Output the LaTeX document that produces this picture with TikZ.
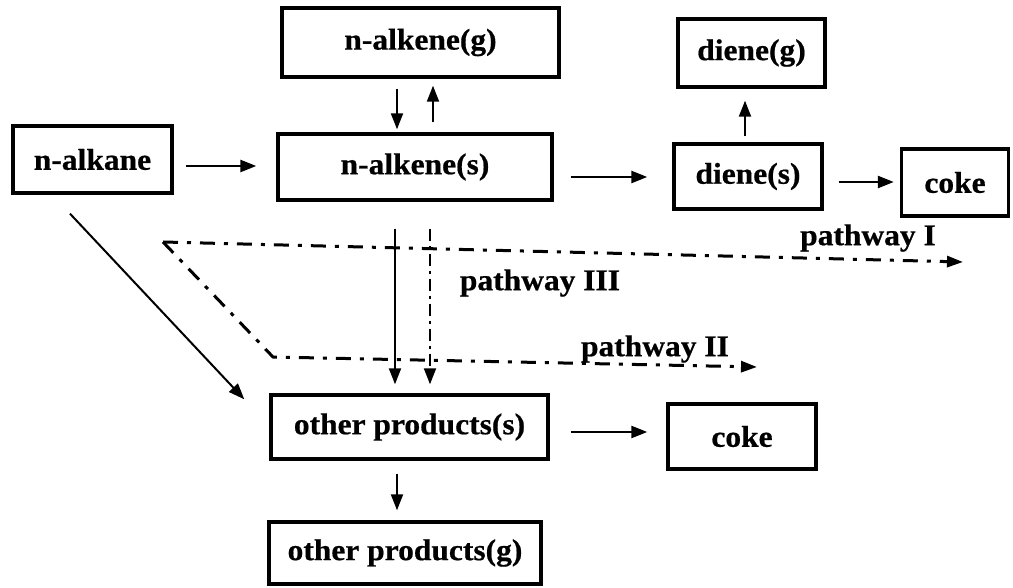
\documentclass[tikz,border=0pt]{standalone}
\usepackage{fontspec}
\setmainfont{Liberation Serif}[FakeStretch=1.05,BoldFeatures={FakeBold=0.6}]
\usetikzlibrary{arrows.meta,calc}
\begin{document}
\begin{tikzpicture}[x=1pt,y=-1pt,
  box/.style={draw,line width=3.4pt,inner sep=0pt,font=\fontsize{30}{34}\selectfont\bfseries},
  arr/.style={line width=2.4pt,-{Triangle[length=16pt,width=12pt]}},
  varr/.style={line width=2pt,-{Triangle[length=16pt,width=12pt]}},
  pathway/.style={line width=3pt,dash pattern=on 15pt off 9pt on 4pt off 9pt},
  parr/.style={pathway,-{Triangle[length=16pt,width=11pt]}},
  lbl/.style={inner sep=0pt,font=\fontsize{30}{34}\selectfont\bfseries}]
\useasboundingbox (0,0) rectangle (1013,588);
\fill[white] (0,0) rectangle (1013,588);
% boxes
\node[box,minimum width=159pt,minimum height=67pt] (alkane) at (92.5,159.5) {n-alkane};
\node[box,minimum width=277pt,minimum height=69pt] (alkeneg) at (420.5,42.5) {n-alkene(g)};
\node[box,minimum width=274pt,minimum height=66pt] (alkenes) at (415,167) {n-alkene(s)};
\node[box,minimum width=147pt,minimum height=68pt] (dieneg) at (751.5,53) {diene(g)};
\node[box,minimum width=148pt,minimum height=65pt] (dienes) at (748,176.5) {diene(s)};
\node[box,minimum width=107pt,minimum height=67pt] (cokeA) at (955,182.5) {coke};
\node[box,minimum width=277pt,minimum height=64pt] (others) at (409.5,427) {other products(s)};
\node[box,minimum width=148pt,minimum height=65pt] (cokeB) at (742,436.5) {coke};
\node[box,minimum width=272pt,minimum height=62pt] (otherg) at (405,553) {other products(g)};
% solid connectors
\draw[arr] ([xshift=12pt,yshift=-6.5pt]alkane.east) -- ([xshift=-20pt,yshift=1pt]alkenes.west);
\draw[varr] ([xshift=-23.5pt,yshift=-10pt]alkeneg.south) -- ([xshift=-18pt,yshift=3pt]alkenes.north);
\draw[varr] ([xshift=18pt,yshift=10pt]alkenes.north) -- ([xshift=12.5pt,yshift=-7pt]alkeneg.south);
\draw[arr] ([xshift=17pt,yshift=-10pt]alkenes.east) -- ([xshift=-25pt,yshift=-0.5pt]dienes.west);
\draw[varr] ([xshift=-3pt,yshift=6pt]dienes.north) -- ([xshift=-6.5pt,yshift=-12pt]dieneg.south);
\draw[arr] ([xshift=15pt,yshift=-5.5pt]dienes.east) -- ([xshift=-6pt,yshift=0.5pt]cokeA.west);
\draw[varr] ([xshift=-22.5pt,yshift=-19pt]alkane.south) -- ([xshift=-25pt,yshift=-6pt]others.north west);
\draw[varr] ([xshift=-20pt,yshift=-27pt]alkenes.south) -- ([xshift=-14.5pt,yshift=9pt]others.north);
\draw[varr,dash pattern=on 12pt off 5pt on 3pt off 5pt] ([xshift=15pt,yshift=-27pt]alkenes.south) -- ([xshift=20.5pt,yshift=9pt]others.north);
\draw[arr] ([xshift=21pt,yshift=-5pt]others.east) -- ([xshift=-19pt,yshift=4.5pt]cokeB.west);
\draw[varr] ([xshift=-12.5pt,yshift=-13pt]others.south) -- ([xshift=-8pt,yshift=10pt]otherg.north);
% pathways
\coordinate (pstart) at (163,242);
\coordinate (pIend) at (963,262);
\coordinate (pIIcorner) at (273,357);
\coordinate (pIIend) at (757,367);
\draw[parr] (pstart) -- (pIend);
\draw[parr] (pstart) -- (pIIcorner) -- (pIIend);
\node[lbl] (lI) at (868,238) {pathway I};
\node[lbl] (lIII) at (540,283) {pathway III};
\node[lbl] (lII) at (655,349) {pathway II};
\end{tikzpicture}
\end{document}
